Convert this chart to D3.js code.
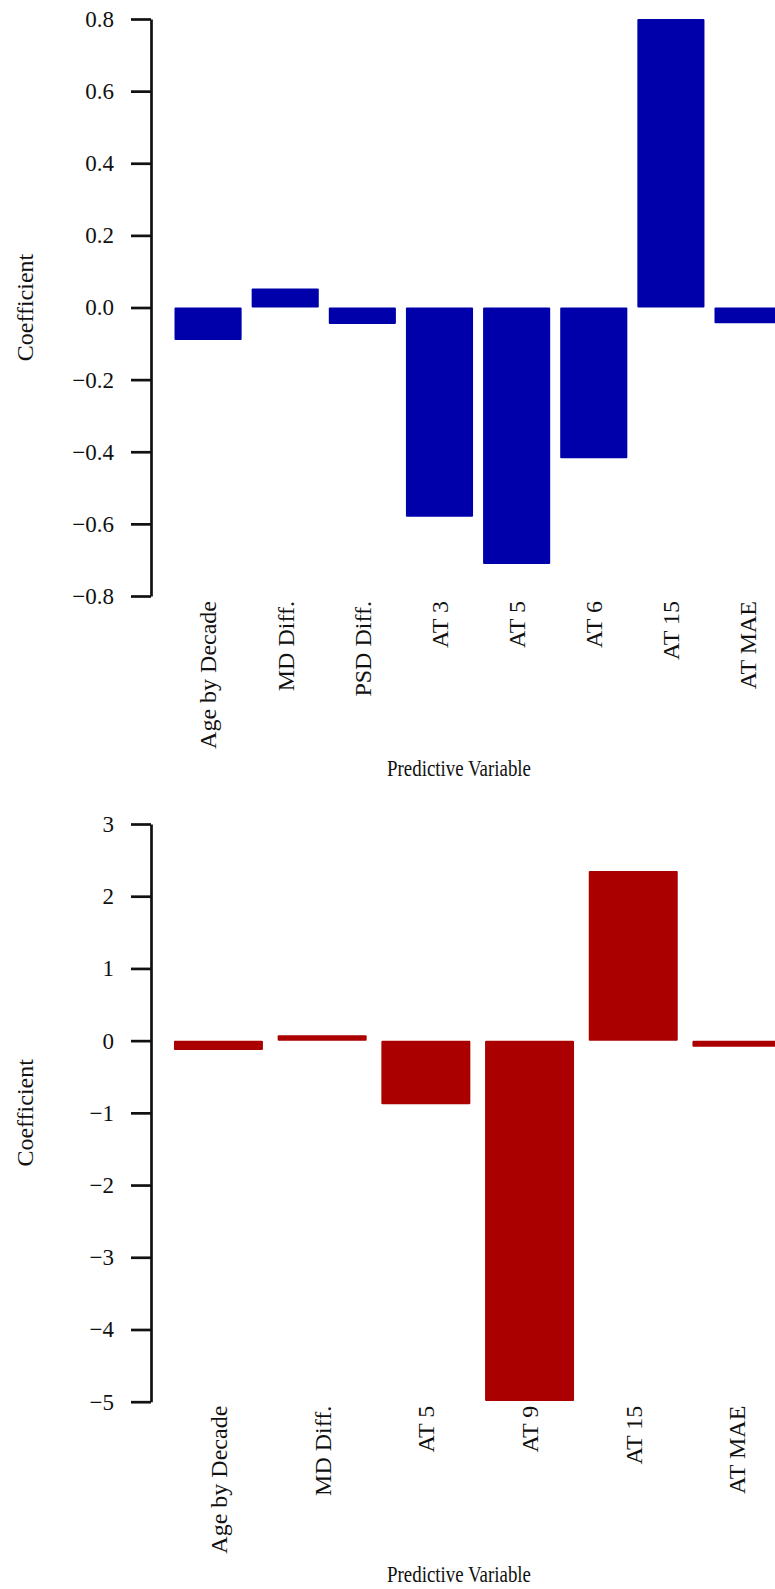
<!DOCTYPE html>
<html>
<head>
<meta charset="utf-8">
<script src="https://cdn.jsdelivr.net/npm/d3@7"></script>
<style>
  html, body { margin: 0; padding: 0; background: #fff; }
  svg { display: block; }
  text { font-family: 'Liberation Serif', 'Times New Roman', serif; fill: #111; }
</style>
</head>
<body>
<svg id="chart" width="775" height="1589"></svg>
<script>
// top panel (blue)
const topVariables = ['Age by Decade', 'MD Diff.', 'PSD Diff.', 'AT 3', 'AT 5', 'AT 6', 'AT 15', 'AT MAE'];
const topCoefficients = [-0.09, 0.053, -0.046, -0.58, -0.711, -0.418, 0.80, -0.044];
const topTicks = [0.8, 0.6, 0.4, 0.2, 0.0, -0.2, -0.4, -0.6, -0.8];

// bottom panel (red)
const bottomVariables = ['Age by Decade', 'MD Diff.', 'AT 5', 'AT 9', 'AT 15', 'AT MAE'];
const bottomCoefficients = [-0.13, 0.075, -0.88, -4.99, 2.35, -0.085];
const bottomTicks = [3, 2, 1, 0, -1, -2, -3, -4, -5];

const svg = d3.select('#chart');

function drawPanel(opts) {
  const g = svg.append('g');

  const y = d3.scaleLinear()
      .domain([d3.min(opts.ticks), d3.max(opts.ticks)])
      .range([opts.bottom, opts.top]);

  const x = d3.scaleBand()
      .domain(opts.variables)
      .range([opts.left, opts.left + opts.step * opts.variables.length])
      .paddingInner(opts.pad)
      .paddingOuter(opts.pad / 2);

  // bars
  g.selectAll('rect.bar')
      .data(opts.variables.map((v, i) => ({name: v, value: opts.values[i]})))
      .enter()
      .append('rect')
      .attr('class', 'bar')
      .attr('x', (d) => x(d.name))
      .attr('width', x.bandwidth())
      .attr('y', (d) => y(Math.max(0, d.value)))
      .attr('height', (d) => Math.abs(y(d.value) - y(0)))
      .attr('rx', 1)
      .attr('fill', opts.color);

  // y axis, R style: line only spans the ticks
  const yAxis = d3.axisLeft(y)
      .tickValues(opts.ticks)
      .tickFormat(opts.format)
      .tickSize(20)
      .tickSizeOuter(0)
      .tickPadding(17);

  const ya = g.append('g')
      .attr('transform', 'translate(151,0)')
      .call(yAxis);
  ya.select('.domain').attr('stroke', '#111').attr('stroke-width', 2.7);
  ya.selectAll('.tick line').attr('stroke', '#111').attr('stroke-width', 2.7);
  ya.selectAll('.tick text')
      .attr('font-family', "'Liberation Serif', serif")
      .attr('font-size', 23)
      .attr('fill', '#222');

  // category labels, rotated like las=2
  const xAxis = d3.axisBottom(x).tickSize(0);
  const xa = g.append('g')
      .attr('transform', 'translate(0,' + opts.bottom + ')')
      .call(xAxis);
  xa.select('.domain').remove();
  xa.selectAll('.tick text')
      .attr('font-family', "'Liberation Serif', serif")
      .attr('font-size', 24)
      .attr('fill', '#111')
      .attr('y', 0)
      .attr('x', -opts.labelGap)
      .attr('dy', '0.35em')
      .attr('transform', 'rotate(-90)')
      .style('text-anchor', 'end');

  // axis titles
  g.append('text')
      .attr('transform', 'translate(33,' + ((opts.top + opts.bottom) / 2) + ') rotate(-90)')
      .attr('text-anchor', 'middle')
      .attr('font-size', 24)
      .text('Coefficient');

  g.append('text')
      .attr('x', 387)
      .attr('y', opts.titleY)
      .attr('font-size', 23)
      .attr('textLength', 144)
      .attr('lengthAdjust', 'spacingAndGlyphs')
      .text('Predictive Variable');
}

drawPanel({
  variables: topVariables,
  values: topCoefficients,
  ticks: topTicks,
  format: d3.format('.1f'),
  color: '#0000aa',
  top: 19,
  bottom: 596,
  left: 169.5,
  step: 77.14,
  pad: 0.13,
  labelGap: 5,
  titleY: 776,
});

drawPanel({
  variables: bottomVariables,
  values: bottomCoefficients,
  ticks: bottomTicks,
  format: d3.format('d'),
  color: '#aa0000',
  top: 824,
  bottom: 1401.7,
  left: 166.6,
  step: 103.7,
  pad: 0.142,
  labelGap: 4,
  titleY: 1582,
});
</script>
</body>
</html>
